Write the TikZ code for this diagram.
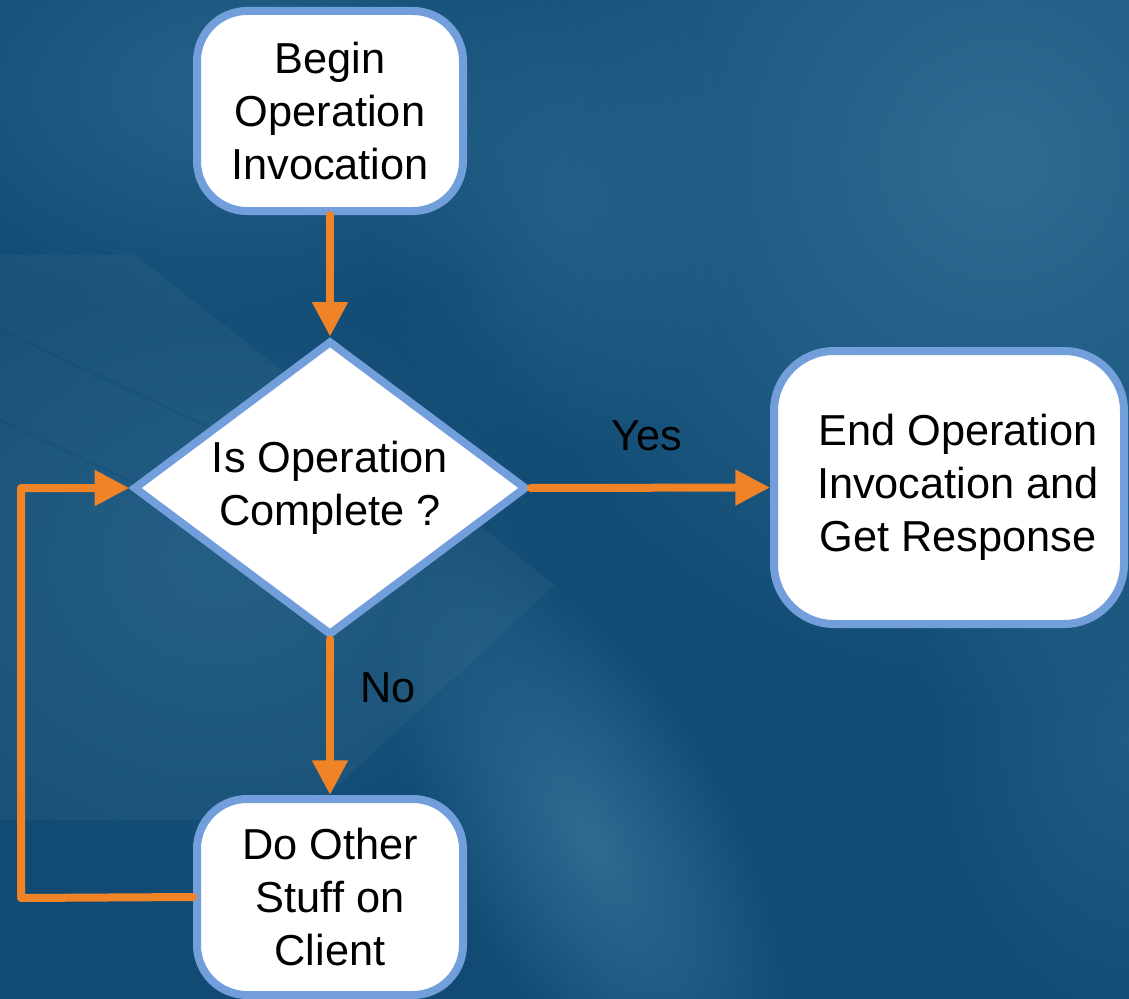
\documentclass[tikz,border=0pt]{standalone}
\usepackage{fontspec}
\setmainfont{Liberation Sans}
\usetikzlibrary{shapes.geometric, arrows.meta, fadings}

\definecolor{bgdark}{RGB}{17,75,116}
\definecolor{bglight}{RGB}{46,108,146}
\definecolor{edgeblue}{RGB}{114,158,219}
\definecolor{flow}{RGB}{239,131,38}

% soft radial blob used for the light patches of the backdrop
\tikzfading[name=softblob, inner color=transparent!0, outer color=transparent!100]

\begin{document}
\begin{tikzpicture}[x=0.75pt, y=-0.75pt,
  lbl/.style={font=\fontsize{32.5pt}{39.75pt}\selectfont, align=center, text=black},
  stepbox/.style={draw=edgeblue, line width=6pt, fill=white, rounded corners=37.5pt, inner sep=0pt},
  decision/.style={diamond, draw=edgeblue, line width=6pt, fill=white, aspect=1.333,
    inner sep=0pt, minimum width=295pt, minimum height=221pt},
  flowline/.style={draw=flow, line width=6pt, line cap=round, line join=round},
  flowarrow/.style={flowline, -{Triangle[length=26pt, width=25.5pt]}},
  edgetext/.style={font=\fontsize{32.5pt}{39.75pt}\selectfont, text=black, inner sep=0pt},
  blob/.style={fill=bglight, path fading=softblob}
]
\path[use as bounding box] (0,0) rectangle (1129,999);

% backdrop
\begin{scope}
  \clip (0,0) rectangle (1129,999);
  \fill[bgdark] (0,0) rectangle (1129,999);
  \fill[blob] (1000,160) ellipse [x radius=560, y radius=560];
  \fill[blob, fill opacity=0.7] (230,90) ellipse [x radius=380, y radius=240];
  \fill[blob, fill opacity=0.5] (1129,740) ellipse [x radius=220, y radius=320];
  \fill[blob, fill opacity=0.45] (220,560) ellipse [x radius=360, y radius=320];
  \fill[blob, fill opacity=0.5] (560,200) ellipse [x radius=200, y radius=260];
  \fill[blob, transform canvas={shift={(590,840)}, rotate=29}] (0,0) ellipse [x radius=150, y radius=330];
  \fill[white, fill opacity=0.035] (0,255) -- (135,255) -- (555,585) -- (300,820) -- (0,820) -- cycle;
  \draw[bgdark, line width=2pt, opacity=0.35] (0,330) -- (420,525);
  \draw[bgdark, line width=2pt, opacity=0.3] (0,420) -- (300,560);
\end{scope}

% flowchart nodes
\node[stepbox, lbl, minimum width=199.5pt, minimum height=150pt] (begin) at (330,111)
  {Begin\\Operation\\Invocation};
\node[decision, lbl] (check) at (330,488) {Is Operation\\Complete ?};
\node[stepbox, minimum width=262.5pt, minimum height=204.75pt, rounded corners=45pt] (finish)
  at (949,487.5) {};
\node[lbl] (finishtext) at (958,487) {End Operation\\Invocation and\\Get Response};
\node[stepbox, lbl, minimum width=199.5pt, minimum height=147pt] (other) at (330,897)
  {Do Other\\Stuff on\\Client};

% connectors
\coordinate (loopbottom) at (21,898);
\coordinate (looptop) at (21,488);
\draw[flowarrow] (begin.south) -- (check.north);
\draw[flowarrow] (check.east) -- (finish.west);
\draw[flowarrow] (check.south) -- (other.north);
\draw[flowarrow] (other.west) -- (loopbottom) -- (looptop) -- (check.west);

\node[edgetext] (yes) at (647,436) {Yes};
\node[edgetext] (no) at (388,688) {No};
\end{tikzpicture}
\end{document}
